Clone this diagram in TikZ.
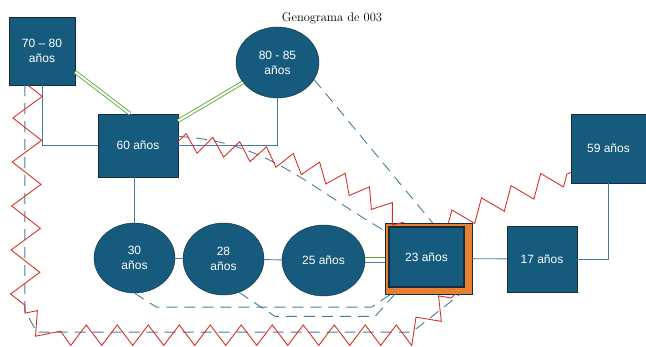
\documentclass[tikz,border=0pt]{standalone}
\usepackage{fontspec}
\setsansfont{Liberation Sans}
\usetikzlibrary{shapes.geometric, decorations.pathmorphing}

\definecolor{genoblue}{RGB}{22,90,125}
\definecolor{genoedge}{RGB}{20,45,60}
\definecolor{lineblue}{RGB}{70,125,155}
\definecolor{genored}{RGB}{214,50,40}
\definecolor{genogreen}{RGB}{95,170,60}
\definecolor{genoorange}{RGB}{232,128,52}

\begin{document}
\begin{tikzpicture}[x=1pt, y=-1pt,
  hombre/.style={rectangle, draw=genoedge, fill=genoblue, text=white, align=center, inner sep=0pt, font=\sffamily\fontsize{12}{15}\selectfont},
  mujer/.style={hombre, ellipse},
  rel/.style={draw=lineblue, line width=0.9pt},
  cercana/.style={draw=genogreen, line width=0.9pt, double=white, double distance=2pt},
  lejana/.style={draw=lineblue, line width=0.9pt, dash pattern=on 11pt off 7pt},
  conflicto/.style={draw=genored, line width=0.9pt, decorate, decoration={zigzag, segment length=#1, amplitude=0.33*#1}},
  conflicto/.default=28pt]

\useasboundingbox (0,0) rectangle (646,347);

\node[font=\fontsize{12.5}{15}\selectfont] (titulo) at (332,18) {Genograma de 003};

% personas
\node[hombre, minimum width=66pt, minimum height=68pt] (p7080) at (42,51) {70 – 80\\años};
\node[mujer, minimum width=83pt, minimum height=71pt] (p8085) at (277.5,62.5) {80 - 85\\años};
\node[hombre, minimum width=80pt, minimum height=63pt] (p60) at (138,145.5) {60 años};
\node[hombre, minimum width=75pt, minimum height=69pt] (p59) at (608.5,148.5) {59 años};

\node[mujer, minimum width=81pt, minimum height=70pt] (p30) at (134.5,258) {30\\años};
\node[mujer, minimum width=81pt, minimum height=72pt] (p28) at (223.5,259) {28\\años};
\node[mujer, minimum width=83pt, minimum height=71pt] (p25) at (323.5,260.5) {25 años};

\node[rectangle, draw=genoedge, fill=genoorange, minimum width=87pt, minimum height=71pt] (p23) at (428.5,258.5) {};
\node[hombre, line width=1.2pt, minimum width=75pt, minimum height=60pt] (p23in) at (426.5,257) {23 años};

\node[hombre, minimum width=70pt, minimum height=66pt] (p17) at (542,259) {17 años};

% lazos familiares
\draw[rel] (p7080.south) |- (p60.west);
\draw[rel] (p60.east) -| (p8085.south);
\draw[rel] (p60.south -| p30.north) -- (p30.north);
\draw[rel] (p30) -- (p28);
\draw[rel] (p28) -- (p25);
\draw[rel] ([yshift=-2pt]p25.east) -- ([yshift=-2pt]p25.east -| p23.west);
\draw[rel] (p23) -- (p17);
\draw[rel] (p17.east) -| (p59.south);

% relaciones cercanas
\draw[cercana] ([yshift=-21pt]p7080.east) -- ([xshift=-8pt]p60.north);
\draw[cercana] ([yshift=-7pt]p60.north east) -- (p8085.210);
\draw[cercana] ([yshift=4pt]p25.east) -- ([yshift=4pt]p25.east -| p23.west);

% relaciones distantes
\draw[lejana] (p8085.-25) -- ([xshift=4pt]p23.north);
\draw[lejana] ([yshift=9pt]p60.east) to[out=-3, in=150] ([yshift=-8pt]p23.north west);
\draw[lejana] (p30.south) -- ++(22,14) -- ++(215,0) -- ([xshift=6pt]p23.south west);
\draw[lejana] (p28.-65) -- ++(36,24) -- ++(100,0) -- ([xshift=10pt]p23.south west);
\draw[lejana] ([xshift=16pt]p7080.south west) -- ++(0,225) -- ++(12,22) -- ++(375,0) -- ([xshift=-12pt]p23.south east);

% conflictos
\draw[conflicto=27pt] ([yshift=4pt]p60.east) to[out=-8, in=140] ([xshift=-25pt]p23.north);
\draw[conflicto=32pt] ([xshift=20pt]p23.north) -- ([yshift=-24pt]p59.west);
\draw[conflicto=44pt] ([xshift=19pt]p7080.south west) -- ++(-3,228) coordinate (esquina);
\draw[conflicto=31pt] (esquina) -- ++(25,22) -- ++(362,0) -- ([xshift=-17pt]p23.south east);
\end{tikzpicture}
\end{document}
